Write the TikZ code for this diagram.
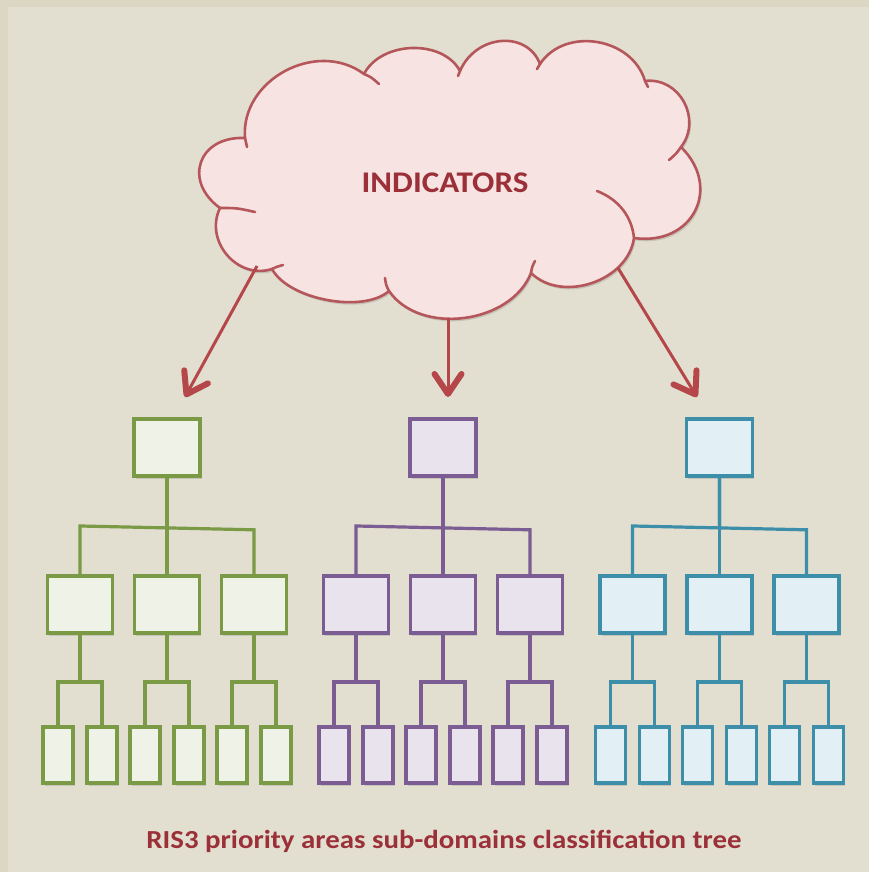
\documentclass[tikz,border=0pt]{standalone}
\usepackage{fontspec}
\setmainfont{Carlito}
\usetikzlibrary{arrows.meta,shadows,calc}
\definecolor{bgout}{HTML}{DCD7C2}
\definecolor{bgin}{HTML}{E2DFD0}
\definecolor{cloudfill}{HTML}{F6E3E2}
\definecolor{cloudline}{HTML}{B5575A}
\definecolor{arrowcol}{HTML}{B5474B}
\definecolor{textred}{HTML}{9B3038}
\definecolor{gstroke}{HTML}{7B9A45}
\definecolor{gfill}{HTML}{EFF2E6}
\definecolor{pstroke}{HTML}{7B5C93}
\definecolor{pfill}{HTML}{E9E3EE}
\definecolor{bstroke}{HTML}{3C8EA9}
\definecolor{bfill}{HTML}{E2EFF5}
\begin{document}
\begin{tikzpicture}[x=1pt,y=-1pt,
  shad/.style={drop shadow={opacity=0.28,shadow xshift=1.5pt,shadow yshift=-2.5pt}},
  box/.style={draw,line width=3.8pt,inner sep=0pt,shad},
  gbox/.style={box,draw=gstroke,fill=gfill},
  pbox/.style={box,draw=pstroke,fill=pfill},
  bbox/.style={box,draw=bstroke,fill=bfill},
  glink/.style={draw=gstroke,line width=3.2pt},
  plink/.style={draw=pstroke,line width=3.2pt},
  blink/.style={draw=bstroke,line width=3.2pt},
  topbox/.style={minimum width=66pt,minimum height=57pt},
  midbox/.style={minimum width=65pt,minimum height=57pt},
  leafbox/.style={minimum width=30pt,minimum height=56pt},
  cloudstyle/.style={draw=cloudline,fill=cloudfill,line width=2.6pt,line join=round,shad},
  curl/.style={draw=cloudline,line width=2.6pt,line cap=round},
  arr/.style={draw=arrowcol,line width=3pt,-{Straight Barb[length=20pt,width=27pt,line width=6pt,round]}}
]
\useasboundingbox (0,0) rectangle (869,872);
\fill[bgout] (0,0) rectangle (869,872);
\fill[bgin] (8,7) rectangle (869,872);

% cloud junctions (J) and lobe apexes (P)
\coordinate (J1) at (245,138);  \coordinate (P1) at (285,71);
\coordinate (J2) at (364,74);   \coordinate (P2) at (412,48);
\coordinate (J3) at (460,71);   \coordinate (P3) at (501,41);
\coordinate (J4) at (540,64);   \coordinate (P4) at (597,42);
\coordinate (J5) at (645,81);   \coordinate (P5) at (684,102);
\coordinate (J6) at (681,147);  \coordinate (P6) at (695,211);
\coordinate (J7) at (634,238);  \coordinate (P7) at (592,283);
\coordinate (J8) at (531,273);  \coordinate (P8) at (464,318);
\coordinate (J9) at (389,291);  \coordinate (P9) at (327,300);
\coordinate (J10) at (272,269); \coordinate (P10) at (227,255);
\coordinate (J11) at (220,208); \coordinate (P11) at (201,162);

\path[cloudstyle] (J1)
 .. controls ($0.154*(J1)+1.333*(P1)-0.487*(J2)$) and ($0.154*(J2)+1.333*(P1)-0.487*(J1)$) .. (J2)
 .. controls ($0.154*(J2)+1.333*(P2)-0.487*(J3)$) and ($0.154*(J3)+1.333*(P2)-0.487*(J2)$) .. (J3)
 .. controls ($0.154*(J3)+1.333*(P3)-0.487*(J4)$) and ($0.154*(J4)+1.333*(P3)-0.487*(J3)$) .. (J4)
 .. controls ($0.154*(J4)+1.333*(P4)-0.487*(J5)$) and ($0.154*(J5)+1.333*(P4)-0.487*(J4)$) .. (J5)
 .. controls ($0.154*(J5)+1.333*(P5)-0.487*(J6)$) and ($0.154*(J6)+1.333*(P5)-0.487*(J5)$) .. (J6)
 .. controls ($0.154*(J6)+1.333*(P6)-0.487*(J7)$) and ($0.154*(J7)+1.333*(P6)-0.487*(J6)$) .. (J7)
 .. controls ($0.154*(J7)+1.333*(P7)-0.487*(J8)$) and ($0.154*(J8)+1.333*(P7)-0.487*(J7)$) .. (J8)
 .. controls ($0.154*(J8)+1.333*(P8)-0.487*(J9)$) and ($0.154*(J9)+1.333*(P8)-0.487*(J8)$) .. (J9)
 .. controls ($0.154*(J9)+1.333*(P9)-0.487*(J10)$) and ($0.154*(J10)+1.333*(P9)-0.487*(J9)$) .. (J10)
 .. controls ($0.154*(J10)+1.333*(P10)-0.487*(J11)$) and ($0.154*(J11)+1.333*(P10)-0.487*(J10)$) .. (J11)
 .. controls ($0.154*(J11)+1.333*(P11)-0.487*(J1)$) and ($0.154*(J1)+1.333*(P11)-0.487*(J11)$) .. (J1)
 -- cycle;
% inner curls of the cloud lobes
\draw[curl] (J1) .. controls (246,142) .. (247,147);
\draw[curl] (J2) .. controls (371,77) .. (379,84);
\draw[curl] (J3) -- (458,76);
\draw[curl] (J4) -- (537,69);
\draw[curl] (J5) -- (648,87);
\draw[curl] (J6) .. controls (676,154) .. (669,160);
\draw[curl] (597,191) .. controls (620,200) and (632,218) .. (J7);
\draw[curl] (J8) .. controls (532,267) .. (535,261);
\draw[curl] (J9) .. controls (386,285) .. (385,278);
\draw[curl] (J10) .. controls (276,267) .. (283,265);
\draw[curl] (J11) .. controls (237,208) .. (255,212);

\node[font=\bfseries\fontsize{30}{36}\selectfont,text=textred,anchor=base] (ind) at (445,192) {\scalebox{1.1}[1]{INDICATORS}};

% arrows
\coordinate (cl) at (257,266);
\coordinate (cm) at (448,318);
\coordinate (cr) at (618,268);
\coordinate (al) at (185,397);
\coordinate (am) at (448,397);
\coordinate (ar) at (697,397);
\draw[arr] (cl) -- (al);
\draw[arr] (cm) -- (am);
\draw[arr] (cr) -- (ar);

% trees (the upper bar of each tree is very slightly tilted)
\foreach \p/\c/\s/\l in {g/167/gbox/glink, p/443/pbox/plink, b/719.5/bbox/blink} {
  \node[\s,topbox] (\p-T) at (\c,447.5) {};
  \foreach \i/\dx in {1/-87,2/0,3/87} {
    \node[\s,midbox] (\p-M\i) at (\c+\dx,604.5) {};
    \draw[\l] (\p-T.south) -- ++(0,50) -- ($(\p-T.south)+(\dx,50+0.022*\dx)$) -- (\p-M\i.north);
    \foreach \j/\ex in {a/-22,b/22} {
      \node[\s,leafbox] (\p-L\i\j) at (\c+\dx+\ex,755) {};
      \draw[\l] (\p-M\i.south) -- ++(0,47) -| (\p-L\i\j.north);
    }
  }
}

\node[font=\bfseries\fontsize{26}{31}\selectfont,text=textred,anchor=base] (cap) at (444,848) {\scalebox{1.11}[1]{RIS3 priority areas sub-domains classification tree}};
\end{tikzpicture}
\end{document}
